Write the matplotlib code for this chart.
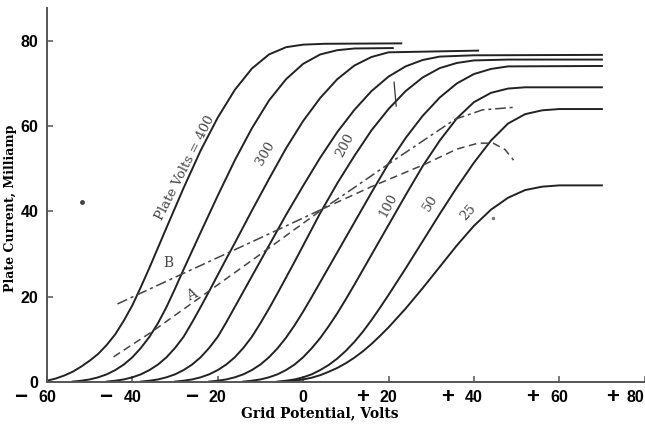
import matplotlib.pyplot as plt

# plate current (milliamp) vs grid potential (volts), one list pair per plate voltage
v400 = [-60, -58, -56, -54, -52, -50, -48, -46, -44, -42, -40, -38, -36, -32, -28, -24, -20, -16, -12, -8, -4, 0, 5, 23]
i400 = [0.3, 0.8, 1.5, 2.4, 3.6, 5.0, 6.6, 8.7, 11.2, 14.4, 18.0, 22.3, 26.8, 36.2, 45.5, 54.3, 62.0, 68.5, 73.5, 76.8, 78.5, 79.1, 79.3, 79.4]

v350 = [-54, -52, -50, -48, -46, -44, -42, -40, -38, -36, -34, -32, -30, -28, -24, -20, -16, -12, -8, -4, 0, 4, 8, 12, 21]
i350 = [0.1, 0.3, 0.6, 1.1, 1.8, 2.8, 4.1, 5.8, 8.0, 10.6, 13.8, 17.6, 21.9, 26.4, 35.1, 43.7, 52.0, 59.5, 66.0, 71.0, 74.6, 76.8, 77.8, 78.2, 78.3]

v300 = [-46, -44, -42, -40, -38, -36, -34, -32, -30, -28, -26, -24, -22, -20, -18, -16, -12, -8, -4, 0, 4, 8, 12, 16, 20, 41]
i300 = [0.1, 0.3, 0.6, 1.1, 1.8, 2.8, 4.1, 5.8, 8.0, 10.6, 14.0, 17.6, 21.3, 25.1, 28.9, 32.6, 40.2, 47.6, 54.8, 61.2, 66.6, 71.0, 74.2, 76.2, 77.3, 77.7]

v250 = [-38, -36, -34, -32, -30, -28, -26, -24, -22, -20, -18, -16, -14, -12, -10, -8, -4, 0, 4, 8, 12, 16, 20, 24, 28, 32, 40, 70]
i250 = [0.1, 0.3, 0.6, 1.1, 1.8, 2.8, 4.1, 5.8, 8.0, 10.6, 14.0, 17.6, 21.2, 24.8, 28.4, 32.0, 39.2, 46.0, 52.6, 58.6, 63.8, 68.2, 71.6, 74.0, 75.5, 76.3, 76.6, 76.7]

v200 = [-30, -28, -26, -24, -22, -20, -18, -16, -14, -12, -10, -8, -6, -4, -2, 0, 4, 8, 12, 16, 20, 24, 28, 32, 36, 40, 48, 70]
i200 = [0.1, 0.3, 0.6, 1.1, 1.8, 2.8, 4.1, 5.8, 8.0, 10.6, 13.8, 17.2, 20.8, 24.5, 28.2, 32.0, 39.6, 46.6, 53.0, 59.0, 64.0, 68.2, 71.4, 73.6, 74.8, 75.4, 75.6, 75.6]

v150 = [-22, -20, -18, -16, -14, -12, -10, -8, -6, -4, -2, 0, 2, 4, 8, 12, 16, 20, 24, 28, 32, 36, 40, 44, 48, 70]
i150 = [0.1, 0.3, 0.6, 1.1, 1.8, 2.8, 4.1, 5.8, 7.9, 10.4, 13.3, 16.5, 19.9, 23.4, 30.4, 37.4, 44.4, 51.2, 57.2, 62.4, 66.7, 70.0, 72.2, 73.4, 74.0, 74.1]

v100 = [-14, -12, -10, -8, -6, -4, -2, 0, 2, 4, 6, 8, 10, 12, 16, 20, 24, 28, 32, 36, 40, 44, 48, 52, 70]
i100 = [0.1, 0.3, 0.6, 1.1, 1.8, 2.8, 4.1, 5.8, 7.9, 10.3, 13.1, 16.1, 19.4, 22.8, 29.8, 36.8, 43.8, 50.6, 56.6, 61.8, 65.6, 67.8, 68.8, 69.1, 69.1]

v50 = [-6, -4, -2, 0, 2, 4, 6, 8, 10, 12, 14, 16, 18, 20, 24, 28, 32, 36, 40, 44, 48, 52, 56, 60, 70]
i50 = [0.1, 0.3, 0.6, 1.1, 1.8, 2.8, 4.0, 5.5, 7.3, 9.4, 11.8, 14.5, 17.4, 20.4, 26.6, 33.0, 39.4, 45.6, 51.4, 56.6, 60.6, 62.8, 63.7, 64.0, 64.0]

v25 = [-4, -2, 0, 2, 4, 6, 8, 10, 12, 14, 16, 18, 20, 24, 28, 32, 36, 40, 44, 48, 52, 56, 60, 70]
i25 = [0.1, 0.3, 0.6, 1.0, 1.6, 2.4, 3.3, 4.4, 5.7, 7.2, 8.9, 10.8, 12.8, 17.2, 22.0, 27.0, 32.0, 36.6, 40.4, 43.2, 45.0, 45.8, 46.1, 46.1]

# dashed working curves
vB = [-43.5, -28.4, -16.9, -5.9, 4.8, 12.0, 20.4, 35.6, 42.0, 49.3]
iB = [18.3, 25.3, 30.6, 35.7, 40.7, 45.6, 51.4, 61.6, 63.8, 64.4]
vA = [-44.4, -35.4, -21.8, -8.7, 4.8, 16.0, 28.6, 36.0, 41.0, 44.5, 47.3, 49.3]
iA = [5.9, 11.8, 21.5, 30.9, 40.7, 45.8, 51.1, 54.6, 56.0, 56.0, 54.5, 52.0]

xticks = [-60, -40, -20, 0, 20, 40, 60, 80]
xtick_nums = ['60', '40', '20', '0', '20', '40', '60', '80']
xtick_signs = ['\u2212', '\u2212', '\u2212', '', '+', '+', '+', '+']
yticks = [0, 20, 40, 60, 80]

curves = [(v400, i400), (v350, i350), (v300, i300), (v250, i250), (v200, i200),
          (v150, i150), (v100, i100), (v50, i50), (v25, i25)]

bold = ['Liberation Sans', 'DejaVu Sans']
serif = ['DejaVu Serif']

fig = plt.figure(figsize=(6.45, 4.26), dpi=100)
ax = fig.add_axes([0.0729, 0.1033, 0.9265, 0.878])

for v, i in curves:
    ax.plot(v, i, color='#222222', lw=1.4, solid_joinstyle='round')

ax.plot(vB, iB, color='#444444', lw=1.1, dashes=(7, 2.5, 2, 2.5))
ax.plot(vA, iA, color='#444444', lw=1.1, dashes=(5, 3))

# small stroke across the 200 curve and stray dots of the print
ax.plot([21.3, 21.8], [70.3, 64.7], color='#333333', lw=0.9)
ax.plot([-51.8], [42.2], 'o', color='#444444', ms=2.5)
ax.plot([44.5], [38.5], 'o', color='#777777', ms=1.5)

lab = dict(color='#444444', family=serif, ha='center', va='center', rotation_mode='anchor')
ax.text(-27.6, 50.2, 'Plate Volts = 400', fontsize=9.5, rotation=63, **lab)
ax.text(-8.9, 53.6, '300', fontsize=9.5, rotation=60, **lab)
ax.text(9.8, 55.6, '200', fontsize=9.5, rotation=62, **lab)
ax.text(20.0, 41.5, '100', fontsize=9.5, rotation=62, **lab)
ax.text(29.7, 41.9, '50', fontsize=9.5, rotation=58, **lab)
ax.text(38.7, 39.7, '25', fontsize=9.5, rotation=48, **lab)
ax.text(-31.5, 27.8, 'B', fontsize=10, rotation=0, **lab)
ax.text(-26.1, 20.4, 'A', fontsize=10, rotation=25, **lab)

ax.set_xlim(-60, 80)
ax.set_ylim(0, 87.7)
for s in ['top', 'right']:
    ax.spines[s].set_visible(False)
for s in ['left', 'bottom']:
    ax.spines[s].set_color('#555555')
    ax.spines[s].set_linewidth(1.4)

ax.set_xticks(xticks)
ax.set_xticklabels(xtick_nums, family=bold, fontweight='bold', fontsize=11.5)
ax.get_xticklabels()[-1].set_ha('right')
ax.set_yticks(yticks)
ax.set_yticklabels([str(y) for y in yticks], family=bold, fontweight='bold', fontsize=11.5)
ax.tick_params(direction='in', length=4, width=1.1, color='#555555')
ax.tick_params(axis='x', pad=6)
ax.tick_params(axis='y', pad=6)

for x, s in zip(xticks, xtick_signs):
    if s:
        dx = -23 if x == xticks[-1] else -19
        ax.annotate(s, xy=(x, 0), xycoords=('data', 'axes fraction'), xytext=(dx, -11),
                    textcoords='offset points', ha='center', va='center',
                    fontsize=16, fontweight='bold', family=bold, annotation_clip=False)

fig.text(0.496, 0.029, 'Grid Potential, Volts', ha='center', va='center',
         fontsize=10, fontweight='bold', family=serif)
fig.text(0.017, 0.51, 'Plate Current, Milliamp', ha='center', va='center', rotation=90,
         fontsize=9, fontweight='bold', family=serif)

fig.savefig('out.png', dpi=100, facecolor='white')
